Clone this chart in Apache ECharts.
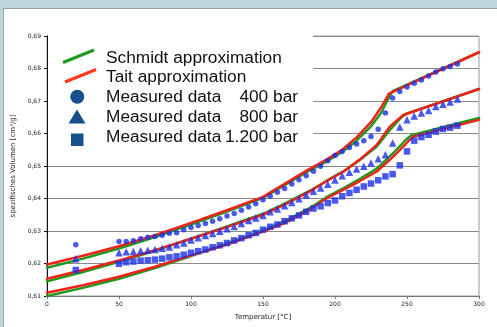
<!DOCTYPE html>
<html><head><meta charset="utf-8">
<script src="https://cdn.jsdelivr.net/npm/echarts/dist/echarts.min.js"></script>
<style>
html,body{margin:0;padding:0;width:497px;height:327px;overflow:hidden;background:#bcd6de;}
#panel{position:absolute;left:3px;top:8px;width:494px;height:319px;background:#fff;border-left:1px solid #9aa4a8;border-top:1px solid #9aa4a8;box-sizing:border-box;}
#chart{position:absolute;left:0;top:0;width:497px;height:327px;}
</style></head>
<body>
<div id="panel"></div>
<div id="chart"></div>
<script>
// Measured data temperatures [°C]
const measT = [20,50,55,60,65,70,75,80,85,90,95,100,105,110,115,120,125,130,135,140,145,150,155,160,165,170,175,180,185,190,195,200,205,210,215,220,225,230,235,240,245,250,255,260,265,270,275,280,285];
// Measured specific volume [cm³/g]
const meas400 = [0.6258,0.6268,0.6268,0.6270,0.6276,0.6281,0.6283,0.6287,0.6293,0.6295,0.6304,0.6311,0.6317,0.6323,0.6330,0.6338,0.6346,0.6354,0.6364,0.6374,0.6384,0.6396,0.6407,0.6419,0.6431,0.6445,0.6458,0.6470,0.6484,0.6499,0.6516,0.6532,0.6545,0.6557,0.6568,0.6578,0.6591,0.6613,0.6663,0.6709,0.6729,0.6743,0.6755,0.6765,0.6777,0.6789,0.6799,0.6806,0.6814];
const meas800 = [0.6215,0.6233,0.6236,0.6237,0.6239,0.6241,0.6243,0.6247,0.6251,0.6258,0.6263,0.6272,0.6279,0.6286,0.6292,0.6299,0.6307,0.6314,0.6323,0.6332,0.6340,0.6348,0.6359,0.6368,0.6378,0.6388,0.6399,0.6411,0.6422,0.6432,0.6444,0.6457,0.6470,0.6481,0.6491,0.6499,0.6509,0.6522,0.6535,0.6571,0.6620,0.6642,0.6654,0.6663,0.6671,0.6683,0.6690,0.6697,0.6706];
const meas1200 = [0.6180,0.6199,0.6204,0.6206,0.6209,0.6210,0.6212,0.6215,0.6219,0.6222,0.6227,0.6233,0.6238,0.6243,0.6250,0.6256,0.6263,0.6271,0.6278,0.6287,0.6294,0.6304,0.6313,0.6320,0.6330,0.6339,0.6348,0.6359,0.6369,0.6376,0.6386,0.6394,0.6407,0.6417,0.6427,0.6437,0.6446,0.6456,0.6468,0.6475,0.6502,0.6545,0.6578,0.6589,0.6596,0.6606,0.6614,0.6618,0.6624];

// Tait approximation (red)
const taitT400 = [0,25,50,75,100,125,150,165,180,195,205,215,225,232,237.5,300];
const tait400  = [0.6197,0.6224,0.6253,0.6287,0.6325,0.6364,0.6405,0.6445,0.6485,0.6522,0.6550,0.6588,0.6635,0.6680,0.6723,0.6850];
const taitT800 = [0,25,50,75,100,125,150,165,182.6,194,206,217,229,238,247.5,300];
const tait800  = [0.6153,0.6180,0.6209,0.6241,0.6276,0.6312,0.6350,0.6381,0.6422,0.6453,0.6483,0.6519,0.6565,0.6621,0.6657,0.6737];
const taitT1200 = [0,25,50,75,100,125,150,165,182.6,194,206,217,229,240.5,249.8,254,300];
const tait1200  = [0.6110,0.6133,0.6159,0.6190,0.6225,0.6258,0.6298,0.6324,0.6366,0.6400,0.6427,0.6453,0.6483,0.6529,0.6571,0.6590,0.6642];

// Schmidt approximation (green)
const schT400 = [0,25,50,75,100,125,150,165,180,195,205,215,225,232,236.5,240,300];
const sch400  = [0.6187,0.6215,0.6246,0.6281,0.6320,0.6360,0.6402,0.6441,0.6480,0.6516,0.6543,0.6578,0.6622,0.6663,0.6703,0.6730,0.6850];
const schT800 = [0,25,50,75,100,125,150,165,182.6,194,206,217,229,238,245,249,300];
const sch800  = [0.6145,0.6174,0.6205,0.6239,0.6276,0.6314,0.6353,0.6384,0.6424,0.6454,0.6484,0.6518,0.6560,0.6610,0.6645,0.6660,0.6737];
const schT1200 = [0,25,50,75,100,125,150,165,182.6,194,206,217,229,240.5,249,253,300];
const sch1200  = [0.6100,0.6125,0.6153,0.6186,0.6223,0.6261,0.6301,0.6330,0.6371,0.6404,0.6432,0.6460,0.6492,0.6540,0.6580,0.6595,0.6648];

const legendLabels = ['Schmidt approximation','Tait approximation','Measured data','Measured data','Measured data'];
const legendPressures = ['400 bar','800 bar','1.200 bar'];

const RED = '#ee2218', GREEN = '#1f9a1f', BLUE = '#1d30e8', NAVY = '#174f8c';
const pairs = (ts, vs) => ts.map((t, i) => [t, vs[i]]);

function lineSeries(name, ts, vs, color) {
  return { type: 'line', name, data: pairs(ts, vs), symbol: 'none', smooth: false,
    lineStyle: { color, width: 2.5, join: 'round', cap: 'round' }, z: color === RED ? 3 : 2, silent: true };
}
function scatterSeries(name, vs, symbol, size) {
  return { type: 'scatter', name, data: pairs(measT, vs), symbol, symbolSize: size,
    itemStyle: { color: BLUE }, z: 5, silent: true };
}

const lf = '"Liberation Sans", Arial, sans-serif';
const legendRows = [58, 77.5, 97.5, 117.5, 137.5];

const graphics = [
  { type: 'rect', shape: { x: 48, y: 34.5, width: 265, height: 126 }, style: { fill: '#fff' }, z: 50 },
  { type: 'line', shape: { x1: 63, y1: 62.5, x2: 94, y2: 50 }, style: { stroke: GREEN, lineWidth: 3 }, z: 51 },
  { type: 'line', shape: { x1: 65, y1: 82, x2: 96, y2: 69.5 }, style: { stroke: '#ff3a1c', lineWidth: 3 }, z: 51 },
  { type: 'circle', shape: { cx: 77.3, cy: 96.7, r: 7 }, style: { fill: NAVY }, z: 51 },
  { type: 'polygon', shape: { points: [[77, 109.5], [85.5, 123.5], [68.5, 123.5]] }, style: { fill: NAVY }, z: 51 },
  { type: 'rect', shape: { x: 71, y: 133.5, width: 12.5, height: 12.5 }, style: { fill: NAVY }, z: 51 }
];
legendLabels.forEach((t, i) => {
  graphics.push({ type: 'text', x: 106, y: legendRows[i], style: { text: t, font: '17.3px ' + lf, fill: '#111', verticalAlign: 'middle' }, z: 52 });
});
legendPressures.forEach((t, i) => {
  graphics.push({ type: 'text', x: 298, y: legendRows[i + 2], style: { text: t, font: '17.3px ' + lf, fill: '#111', align: 'right', verticalAlign: 'middle' }, z: 52 });
});

const chart = echarts.init(document.getElementById('chart'), null, { renderer: 'canvas' });
chart.setOption({
  animation: false,
  backgroundColor: 'transparent',
  grid: { left: 47, top: 36, right: 18, bottom: 31, containLabel: false, show: true, borderColor: '#9a9a9a', borderWidth: 1, backgroundColor: 'transparent' },
  xAxis: {
    type: 'value', min: 0, max: 300, interval: 50,
    name: 'Temperatur [°C]', nameLocation: 'middle', nameGap: 18,
    nameTextStyle: { fontSize: 7, color: '#222', fontFamily: 'DejaVu Sans' },
    axisLine: { show: true, onZero: false, lineStyle: { color: '#777', width: 1 } },
    axisTick: { show: true, length: 3, lineStyle: { color: '#777' } },
    axisLabel: { fontSize: 6, color: '#222', margin: 5, fontFamily: 'DejaVu Sans' },
    splitLine: { show: false }
  },
  yAxis: {
    type: 'value', min: 0.61, max: 0.69, interval: 0.01,
    name: 'spezifisches Volumen [cm³/g]', nameLocation: 'middle', nameGap: 22,
    nameTextStyle: { fontSize: 7, color: '#222', fontFamily: 'DejaVu Sans' },
    axisLine: { show: true, onZero: false, lineStyle: { color: '#111', width: 1 } },
    axisTick: { show: true, length: 3, lineStyle: { color: '#111' } },
    axisLabel: { fontSize: 6, color: '#222', margin: 6, fontFamily: 'DejaVu Sans',
      formatter: v => v.toFixed(2).replace('.', ',') },
    splitLine: { show: true, lineStyle: { color: '#8a8a8a', width: 1 } }
  },
  series: [
    lineSeries('Schmidt 400', schT400, sch400, GREEN),
    lineSeries('Schmidt 800', schT800, sch800, GREEN),
    lineSeries('Schmidt 1200', schT1200, sch1200, GREEN),
    lineSeries('Tait 400', taitT400, tait400, RED),
    lineSeries('Tait 800', taitT800, tait800, RED),
    lineSeries('Tait 1200', taitT1200, tait1200, RED),
    scatterSeries('400 bar', meas400, 'circle', 5.5),
    scatterSeries('800 bar', meas800, 'triangle', 7.5),
    scatterSeries('1200 bar', meas1200, 'rect', 6.5)
  ],
  graphic: graphics
});
</script>
</body></html>
